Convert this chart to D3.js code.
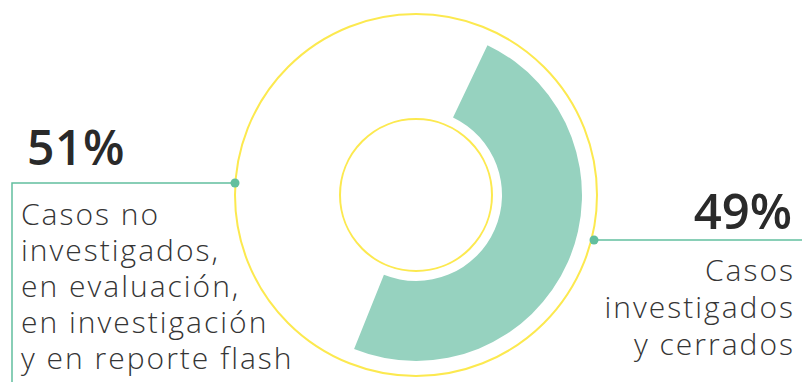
<!DOCTYPE html>
<html>
<head>
<meta charset="utf-8">
<script src="https://cdn.jsdelivr.net/npm/d3@7"></script>
<style>
  body { margin: 0; background: #fff; }
  svg { display: block; }
</style>
</head>
<body>
<div id="chart"></div>
<script>
// values
const categories = ['investigados', 'no investigados'];
const values = [49, 51];
const percentLabels = ['49%', '51%'];
const leftLines = ['Casos no', 'investigados,', 'en evaluación,', 'en investigación', 'y en reporte flash'];
const rightLines = ['Casos', 'investigados', 'y cerrados'];

const width = 802;
const height = 382;
const cx = 416, cy = 195;
const green = '#96d2bf';
const lineGreen = '#62bf9f';
const yellow = '#fce94f';
const textColor = '#353535';
const font = '"Open Sans", sans-serif';

const svg = d3.select('#chart').append('svg')
  .attr('width', width)
  .attr('height', height);

const g = svg.append('g').attr('transform', `translate(${cx},${cy})`);

// outer and inner guide circles
g.append('circle').attr('r', 181).attr('fill', 'none').attr('stroke', yellow).attr('stroke-width', 2);
g.append('circle').attr('r', 76).attr('fill', 'none').attr('stroke', yellow).attr('stroke-width', 2);

const startDeg = 25.5;
const pie = d3.pie().sort(null)
  .startAngle(startDeg * Math.PI / 180)
  .endAngle((startDeg + 360) * Math.PI / 180);
const arcs = pie(values);
const arc = d3.arc().innerRadius(86).outerRadius(166);

// only the 49% slice is filled
g.append('path')
  .attr('d', arc(arcs[0]))
  .attr('fill', green);

// left callout
const leftY = 183;
svg.append('polyline')
  .attr('points', `235,${leftY} 12,${leftY} 12,${height}`)
  .attr('fill', 'none').attr('stroke', lineGreen).attr('stroke-width', 1.5);
svg.append('circle').attr('cx', 235).attr('cy', leftY).attr('r', 4.5).attr('fill', lineGreen);

svg.append('text')
  .attr('x', 27).attr('y', 165)
  .attr('font-family', font).attr('font-weight', 600).attr('font-size', 48)
  .attr('letter-spacing', 0.5)
  .attr('fill', '#2a2a2a')
  .text(percentLabels[1]);

svg.append('text')
  .attr('font-family', font).attr('font-weight', 300).attr('font-size', 30)
  .attr('letter-spacing', 2)
  .attr('fill', textColor)
  .selectAll('tspan')
  .data(leftLines)
  .join('tspan')
  .attr('x', 21)
  .attr('y', (d, i) => 225 + i * 36)
  .text(d => d);

// right callout
const rightY = 240;
svg.append('line')
  .attr('x1', 594).attr('y1', rightY).attr('x2', width).attr('y2', rightY)
  .attr('stroke', lineGreen).attr('stroke-width', 1.5);
svg.append('circle').attr('cx', 594).attr('cy', rightY).attr('r', 4.5).attr('fill', lineGreen);

svg.append('text')
  .attr('x', 792).attr('y', 229)
  .attr('text-anchor', 'end')
  .attr('font-family', font).attr('font-weight', 600).attr('font-size', 49)
  .attr('fill', '#2a2a2a')
  .text(percentLabels[0]);

svg.append('text')
  .attr('font-family', font).attr('font-weight', 300).attr('font-size', 30)
  .attr('letter-spacing', 2)
  .attr('fill', textColor)
  .attr('text-anchor', 'end')
  .selectAll('tspan')
  .data(rightLines)
  .join('tspan')
  .attr('x', 795)
  .attr('y', (d, i) => 281 + i * 37)
  .text(d => d);
</script>
</body>
</html>
